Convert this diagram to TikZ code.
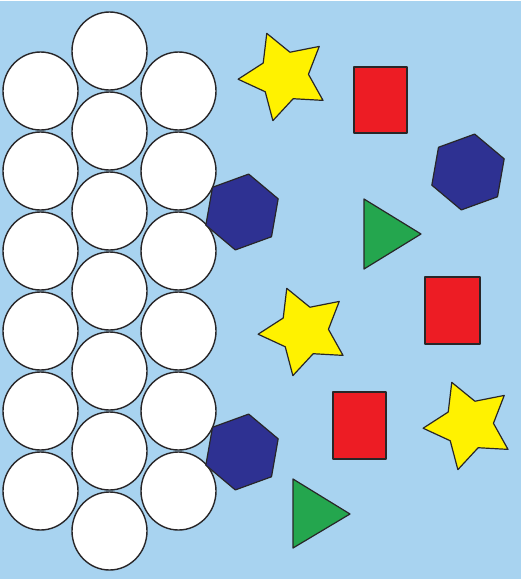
\documentclass[tikz,border=0pt]{standalone}
\definecolor{bg}{RGB}{168,211,240}
\definecolor{edge}{RGB}{40,38,40}
\definecolor{hexblue}{RGB}{46,49,146}
\definecolor{rectred}{RGB}{237,28,36}
\definecolor{stary}{RGB}{255,242,0}
\definecolor{trig}{RGB}{36,166,78}
\newcommand{\hexat}[2]{%
  \begin{scope}[shift={(#1,-#2)}]
    \draw[hexa] (20:38.5) -- (80:38.5) -- (140:38.5) -- (200:38.5) -- (260:38.5) -- (320:38.5) -- cycle;
  \end{scope}}
\newcommand{\starat}[2]{%
  \begin{scope}[shift={(#1,-#2)}]
    \draw[starsty] (112:46) -- (76:24.5) -- (40:46) -- (4:24.5) -- (-32:46) -- (-68:24.5) -- (-104:46) -- (-140:24.5) -- (-176:46) -- (148:24.5) -- cycle;
  \end{scope}}
\begin{document}
\begin{tikzpicture}[x=1pt,y=1pt,
  outl/.style={draw=edge, line width=1.2pt, line join=round},
  ball/.style={draw=edge, line width=1.4pt, fill=white},
  hexa/.style={outl, fill=hexblue},
  starsty/.style={outl, fill=stary},
  redbox/.style={outl, fill=rectred},
  tri/.style={outl, fill=trig}]
\useasboundingbox (0,0) rectangle (521,-579);
\fill[white] (0,0) rectangle (521,-579);
\fill[bg] (0,-1.2) rectangle (521,-579);
% white balls
\foreach \y in {91,171,251,331,411,491} {
  \draw[ball] (40.5,-\y) ellipse [x radius=37.5, y radius=39];
  \draw[ball] (178.5,-\y) ellipse [x radius=37.5, y radius=39];
}
\foreach \y in {51,131,211,291,371,451,531} {
  \draw[ball] (109.5,-\y) ellipse [x radius=37.5, y radius=39];
}
% hexagons
\hexat{242}{212}
\hexat{242}{452}
\hexat{468}{172}
% stars
\starat{284}{76}
\starat{304}{331}
\starat{469}{425}
% rectangles
\draw[redbox] (354,-67) rectangle (407,-133);
\draw[redbox] (425,-277) rectangle (480,-344);
\draw[redbox] (333,-392) rectangle (386,-459);
% triangles
\draw[tri] (364,-199) -- (364,-269) -- (421,-234) -- cycle;
\draw[tri] (293,-479) -- (293,-548) -- (350,-514) -- cycle;
\end{tikzpicture}
\end{document}
